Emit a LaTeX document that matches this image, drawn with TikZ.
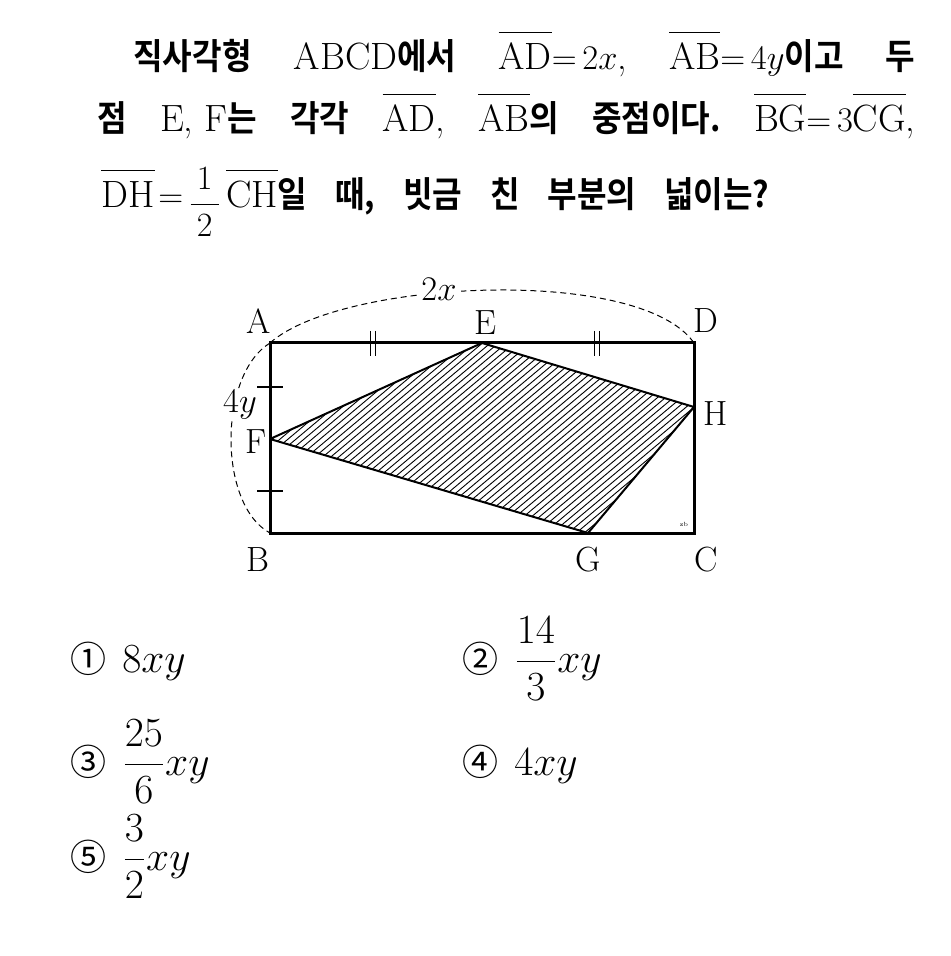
\documentclass[tikz,border=0pt]{standalone}
\usepackage{amsmath}
\usepackage{fontspec}
\newfontfamily\kr[Scale=0.94,FakeStretch=0.9,BoldFont={Noto Sans CJK KR Bold}]{Noto Sans CJK KR}
\newfontfamily\krc[Scale=0.9]{Noto Sans CJK KR}
\newcommand{\kor}[1]{{\kr\bfseries #1}}
\newcommand{\seg}[1]{\overline{\rule{0pt}{0.86em}\mathrm{#1}}}
\newcommand{\mezzo}{\raisebox{-2.5pt}{\fontsize{17}{17}\selectfont
	$\dfrac{\hbox to 14pt{\hss1\hss}}{\hbox to 14pt{\hss2\hss}}$}}
\usetikzlibrary{positioning}

\begin{document}
\begin{tikzpicture}[x=0.5pt,y=-0.5pt]
 \tikzset{testo node/.style={anchor=base west, inner sep=0pt,
 		font=\fontsize{19}{22}\selectfont}, }
 \tikzset{scelta node/.style={anchor=base west, inner sep=0pt,
 		font=\fontsize{20}{24}\selectfont}, }
 \tikzset{vertice node/.style={inner sep=0pt,
 		font=\fontsize{17.5}{20}\selectfont}, }
 \tikzset{lato/.style={line width=1.5pt}, }
 \tikzset{linea/.style={line width=1pt, line join=round}, }
 \tikzset{tratteggio/.style={line width=0.45pt}, }
 \tikzset{arco/.style={dash pattern=on 3pt off 2pt, line width=0.5pt}, }
 \tikzset{tacca/.style={line width=0.8pt}, }
 \useasboundingbox (0,0) rectangle (950,956);
 % testo
 \node[testo node] (riga1) at (133,70) {\hbox to 391pt{\kor{직사각형}\hfill
 	ABCD\kor{에서}\hfill $\seg{AD}{=}\,2x$,\hfill $\seg{AB}{=}\,4y$\kor{이고}\hfill\kor{두}}};
 \node[testo node] (riga2) at (97,132) {\hbox to 409pt{\kor{점}\hfill
 	E, F\kor{는}\hfill\kor{각각}\hfill $\seg{AD}$,\hfill $\seg{AB}$\kor{의}\hfill
 	\kor{중점이다.}\hfill $\seg{BG}{=}\,3\seg{CG}$,}};
 \node[testo node] (riga3) at (101,208) {\hbox to 334pt{$\seg{DH}\mkern2mu{=}$\hspace{2.5pt}\mezzo\hspace{2.5pt}$\seg{CH}$\kor{일}\hfill
 	\kor{때,}\hfill\kor{빗금}\hfill\kor{친}\hfill\kor{부분의}\hfill\kor{넓이는?}}};
 % figura
 \coordinate (A) at (270,343);
 \coordinate (D) at (694,343);
 \coordinate (B) at (270,533);
 \coordinate (C) at (694,533);
 \coordinate (E) at (482,343);
 \coordinate (F) at (270,439);
 \coordinate (G) at (588,533);
 \coordinate (H) at (694,407);
 \begin{scope}
 \clip (F) -- (E) -- (H) -- (G) -- cycle;
 \foreach \x in {0,8,...,720}
 \draw[tratteggio] (\x,560) -- ++(330,-277);
 \end{scope}
 \draw[linea] (F) -- (E) -- (H) -- (G) -- cycle;
 \draw[lato] (A) -- (D) -- (C) -- (B) -- cycle;
 % tacche
 \foreach \y in {387,491}
 \draw[tacca] (257,\y) -- (283,\y);
 \foreach \x in {373,597}
 \draw[tacca] (\x-2.5,331) -- (\x-2.5,356) (\x+2.5,331) -- (\x+2.5,356);
 % archi
 \draw[arco] (A) .. controls (340,280) and (640,265) .. (D);
 \draw[arco] (A) .. controls (218,375) and (218,505) .. (B);
 \node[vertice node, fill=white, inner sep=2pt] (lx) at (439,289) {$2x$};
 \node[vertice node, fill=white, inner sep=1pt] (ly) at (240,405) {$4y$};
 % etichette
 \node[vertice node] (lA) at (259,321) {A};
 \node[vertice node] (lE) at (485,323) {E};
 \node[vertice node] (lD) at (706,321) {D};
 \node[vertice node] (lH) at (716,414) {H};
 \node[vertice node] (lF) at (256,442) {F};
 \node[vertice node] (lB) at (258,560) {B};
 \node[vertice node] (lG) at (588,560) {G};
 \node[vertice node] (lC) at (706,560) {C};
 \node[inner sep=0pt, font=\fontsize{3}{3}\selectfont] (zb) at (684,524) {zb};
 % scelte
 \node[scelta node] (s1) at (70,672) {{\krc ①}\hspace{8pt}$8xy$};
 \node[scelta node] (s2) at (462,672) {{\krc ②}\hspace{8pt}$\dfrac{14}{3}xy$};
 \node[scelta node] (s3) at (70,775) {{\krc ③}\hspace{8pt}$\dfrac{25}{6}xy$};
 \node[scelta node] (s4) at (462,775) {{\krc ④}\hspace{8pt}$4xy$};
 \node[scelta node] (s5) at (70,870) {{\krc ⑤}\hspace{8pt}$\dfrac{3}{2}xy$};
\end{tikzpicture}
\end{document}
